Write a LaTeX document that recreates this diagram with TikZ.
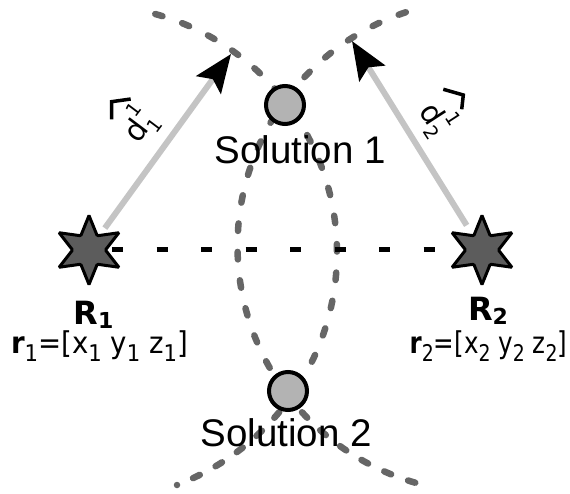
\documentclass[tikz,border=0pt]{standalone}
\usepackage{fontspec}
\usepackage{graphicx}
\setmainfont{DejaVu Sans}
\newfontfamily\solfont{Liberation Sans}
\usetikzlibrary{shapes.geometric,arrows.meta,backgrounds}
\definecolor{arcgray}{HTML}{666666}
\definecolor{stargray}{HTML}{5C5C5C}
\definecolor{solgray}{HTML}{B3B3B3}
\definecolor{raygray}{HTML}{C4C4C4}
\newcommand\lowsub[1]{\raisebox{-.28em}{\fontsize{23}{23}\selectfont #1}}
\newcommand\labsub[1]{\raisebox{-.12em}{\fontsize{22}{22}\selectfont\bfseries #1}}
\newcommand\hatd[2]{\fontsize{30}{30}\selectfont d\rlap{\raisebox{-.25em}{\fontsize{19}{19}\selectfont #1}}\raisebox{.62em}{\fontsize{19}{19}\selectfont #2}}
\tikzset{
  x=1pt,y=-1pt,
  arcline/.style={draw=arcgray,line width=6.5pt,line cap=round,line join=round,dash pattern=on 7.5pt off 21pt},
  arcshort/.style={arcline,dash pattern=on 7.5pt off 18pt},
  basedash/.style={draw=black,line width=5pt,dash pattern=on 11pt off 33.5pt,dash phase=21.5pt},
  ray/.style={draw=raygray,line width=6pt,-{Stealth[length=38pt,width=30pt,inset=7pt,color=black]}},
  receiver/.style={star,star points=6,star point ratio=2.1,minimum size=69pt,inner sep=0pt,draw=black,line width=3pt,fill=stargray,rounded corners=1pt},
  solution/.style={circle,minimum size=38pt,inner sep=0pt,draw=black,line width=4pt,fill=solgray},
  sollabel/.style={font=\solfont\fontsize{38.5}{38.5}\selectfont,inner sep=0pt,text=black},
  rlabel/.style={font=\fontsize{32}{32}\selectfont\bfseries,inner sep=0pt},
  poslabel/.style={font=\fontsize{30}{30}\selectfont,inner sep=0pt},
  hatlabel/.style={inner sep=0pt},
  hatmark/.style={draw=black,line width=3.5pt,miter limit=10},
  enddot/.style={circle,fill=arcgray,minimum size=6.5pt,inner sep=0pt}
}
\begin{document}
\begin{tikzpicture}
\useasboundingbox (0,0) rectangle (570,494);
\node[receiver] (R1) at (89,250) {};
\node[receiver] (R2) at (482,250) {};
\coordinate (tip1) at (231,54);
\coordinate (tip2) at (352,41);
\begin{scope}[on background layer]
\draw[arcline] plot[domain=-74.5:33,samples=120] ({89+248*cos(\x)},{253+248*sin(\x)});
\draw[arcshort] plot[domain=65.2:37,samples=40] ({89+248*cos(\x)},{253+248*sin(\x)});
\draw[arcline] plot[domain=251.5:142,samples=120] ({484+246.5*cos(\x)},{246+246.5*sin(\x)});
\draw[arcshort] plot[domain=106.2:138,samples=40] ({484+246.5*cos(\x)},{246+246.5*sin(\x)});
\node[enddot] (end1) at (177,485) {};
\draw[basedash] (R1.center) -- (R2.center);
\draw[ray,shorten <=27pt] (R1.center) -- (tip1);
\draw[ray,shorten <=29pt] (R2.center) -- (tip2);
\end{scope}
\node[solution] (sol1) at (285,105) {};
\node[solution] (sol2) at (288,391) {};
\node[sollabel] (t1) at (300,150) {Solution 1};
\node[sollabel] (t2) at (286,433) {Solution 2};
\node[rlabel] (l1) at (93.5,315) {R\labsub{1}};
\node[rlabel] (l2) at (488,311) {R\labsub{2}};
\node[poslabel] (p1) at (99.5,346) {\scalebox{.92}[1]{\textbf{r}\lowsub{1}=[x\lowsub{1} y\lowsub{1} z\lowsub{1}]}};
\node[poslabel] (p2) at (488.5,346) {\scalebox{.82}[1]{\textbf{r}\lowsub{2}=[x\lowsub{2} y\lowsub{2} z\lowsub{2}]}};
\node[hatlabel,rotate=53] (d1) at (138,125) {\hatd{1}{1}};
\node[hatlabel,rotate=-57] (d2) at (437,118) {\hatd{2}{1}};
\draw[hatmark] (111.7,119.3) -- (111.7,101.7) -- (130.7,99);
\draw[hatmark] (443.3,89.3) -- (463.3,95) -- (461.7,109.3);
\end{tikzpicture}
\end{document}
